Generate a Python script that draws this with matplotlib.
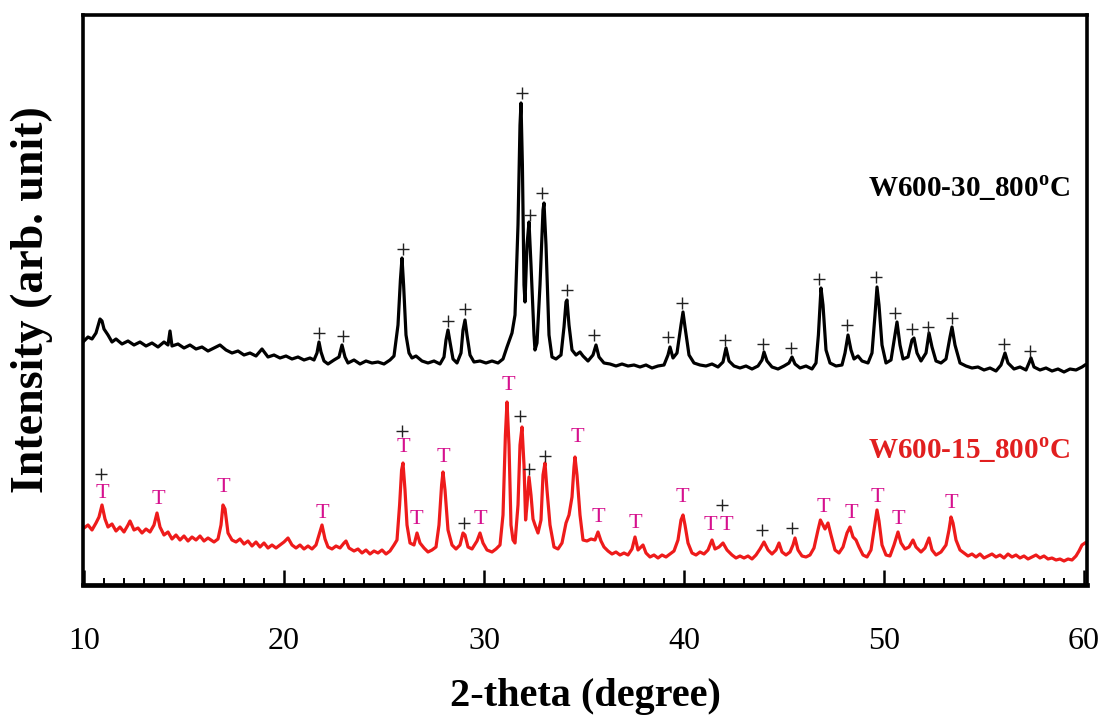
import matplotlib
matplotlib.use("Agg")
import matplotlib.pyplot as plt
from matplotlib.ticker import MultipleLocator

plt.rcParams['font.family'] = ['Liberation Serif', 'DejaVu Serif']
plt.rcParams['mathtext.fontset'] = 'custom'
plt.rcParams['mathtext.rm'] = 'Liberation Serif'
plt.rcParams['mathtext.bf'] = 'Liberation Serif:bold'

# ---- W600-30_800C (black, upper) : 2-theta, intensity (arb.) ----
black_x = [10.0, 10.2, 10.4, 10.6, 10.8, 10.9, 11.0, 11.2, 11.4, 11.6, 11.9, 12.2, 12.5, 12.8, 13.1, 13.4,
           13.7, 14.0, 14.2, 14.3, 14.4, 14.7, 15.0, 15.3, 15.6, 15.9, 16.2, 16.5, 16.8, 17.1, 17.4, 17.7,
           18.0, 18.3, 18.6, 18.9, 19.2, 19.5, 19.8, 20.1, 20.4, 20.7, 21.0, 21.3, 21.5, 21.65, 21.75, 21.85,
           22.0, 22.2, 22.5, 22.75, 22.9, 23.05, 23.2, 23.5, 23.8, 24.1, 24.4, 24.7, 25.0, 25.3, 25.5, 25.7,
           25.82, 25.9, 25.98, 26.1, 26.25, 26.4, 26.6, 26.9, 27.2, 27.5, 27.8, 28.0, 28.1, 28.2, 28.3, 28.45,
           28.65, 28.85, 28.95, 29.05, 29.15, 29.3, 29.5, 29.8, 30.1, 30.4, 30.7, 30.95, 31.15, 31.4, 31.55, 31.7,
           31.8, 31.85, 31.92, 32.0, 32.05, 32.15, 32.25, 32.35, 32.5, 32.55, 32.65, 32.8, 32.95, 33.0, 33.1, 33.25,
           33.4, 33.6, 33.85, 34.0, 34.1, 34.15, 34.25, 34.4, 34.6, 34.8, 34.95, 35.2, 35.45, 35.6, 35.75, 36.0,
           36.3, 36.6, 36.9, 37.2, 37.5, 37.8, 38.1, 38.4, 38.7, 39.0, 39.2, 39.3, 39.45, 39.65, 39.85, 39.95,
           40.05, 40.25, 40.5, 40.8, 41.1, 41.4, 41.7, 41.95, 42.1, 42.25, 42.5, 42.8, 43.1, 43.4, 43.7, 43.9,
           44.0, 44.15, 44.4, 44.7, 45.0, 45.25, 45.4, 45.55, 45.8, 46.1, 46.4, 46.6, 46.72, 46.85, 46.95, 47.1,
           47.3, 47.6, 47.9, 48.05, 48.2, 48.35, 48.5, 48.7, 48.9, 49.2, 49.4, 49.55, 49.65, 49.75, 49.9, 50.1,
           50.35, 50.55, 50.65, 50.8, 50.95, 51.2, 51.4, 51.5, 51.65, 51.85, 52.1, 52.25, 52.4, 52.6, 52.85, 53.1,
           53.3, 53.4, 53.55, 53.8, 54.1, 54.4, 54.7, 55.0, 55.3, 55.6, 55.85, 56.05, 56.2, 56.5, 56.8, 57.1,
           57.25, 57.35, 57.5, 57.8, 58.1, 58.4, 58.7, 59.0, 59.3, 59.6, 59.9, 60.05]
black_y = [244, 248, 246, 252, 266, 264, 256, 250, 243, 246, 241, 244, 240, 243, 239, 242,
           238, 243, 240, 254, 239, 241, 237, 240, 236, 238, 234, 237, 240, 235, 232, 234,
           230, 232, 229, 236, 228, 230, 227, 229, 226, 228, 225, 227, 225, 232, 243, 233,
           224, 221, 225, 228, 240, 228, 222, 225, 221, 224, 222, 223, 221, 225, 229, 260,
           305, 327, 300, 250, 232, 227, 229, 224, 222, 224, 221, 228, 245, 255, 243, 226,
           222, 232, 255, 265, 250, 230, 223, 224, 222, 224, 222, 226, 238, 252, 270, 360,
           460, 482, 420, 300, 283, 340, 363, 320, 250, 235, 242, 300, 375, 382, 340, 250,
           228, 226, 230, 258, 283, 285, 260, 235, 230, 233, 229, 224, 230, 240, 228, 222,
           221, 219, 221, 219, 220, 218, 220, 217, 219, 220, 230, 238, 227, 232, 260, 273,
           258, 230, 222, 220, 219, 221, 218, 223, 237, 224, 219, 217, 219, 216, 219, 225,
           233, 224, 218, 216, 219, 222, 228, 221, 217, 219, 216, 222, 250, 297, 280, 235,
           222, 219, 220, 232, 250, 235, 226, 229, 224, 222, 232, 270, 298, 280, 240, 222,
           225, 250, 263, 240, 226, 228, 245, 247, 232, 224, 232, 252, 238, 224, 222, 226,
           248, 258, 240, 222, 219, 217, 218, 215, 217, 214, 220, 232, 222, 216, 218, 215,
           222, 227, 218, 215, 217, 214, 216, 213, 216, 215, 218, 220]

# ---- W600-15_800C (red, lower) ----
red_x = [10.0, 10.2, 10.4, 10.6, 10.75, 10.9, 11.05, 11.2, 11.4, 11.6, 11.8, 12.0, 12.2, 12.3, 12.5, 12.7,
         12.9, 13.1, 13.3, 13.5, 13.65, 13.8, 14.0, 14.2, 14.4, 14.6, 14.8, 15.0, 15.2, 15.4, 15.6, 15.8,
         16.0, 16.2, 16.5, 16.7, 16.85, 16.95, 17.05, 17.2, 17.4, 17.6, 17.8, 18.0, 18.2, 18.4, 18.6, 18.8,
         19.0, 19.2, 19.4, 19.6, 19.8, 20.0, 20.2, 20.4, 20.6, 20.8, 21.0, 21.2, 21.4, 21.6, 21.75, 21.9,
         22.05, 22.2, 22.4, 22.6, 22.8, 23.0, 23.1, 23.25, 23.5, 23.7, 23.9, 24.1, 24.3, 24.5, 24.7, 24.9,
         25.1, 25.3, 25.5, 25.65, 25.78, 25.88, 25.95, 26.05, 26.15, 26.3, 26.5, 26.65, 26.8, 27.0, 27.2, 27.4,
         27.6, 27.75, 27.88, 27.95, 28.05, 28.2, 28.4, 28.6, 28.8, 28.95, 29.05, 29.2, 29.4, 29.65, 29.8, 29.95,
         30.15, 30.4, 30.6, 30.8, 30.95, 31.07, 31.15, 31.25, 31.35, 31.45, 31.55, 31.7, 31.8, 31.9, 32.0, 32.08,
         32.15, 32.25, 32.35, 32.45, 32.55, 32.7, 32.85, 32.95, 33.05, 33.15, 33.3, 33.5, 33.7, 33.9, 34.1, 34.25,
         34.4, 34.5, 34.55, 34.65, 34.8, 34.95, 35.15, 35.35, 35.55, 35.7, 35.85, 36.0, 36.2, 36.4, 36.6, 36.8,
         37.0, 37.2, 37.4, 37.55, 37.7, 37.95, 38.1, 38.3, 38.5, 38.7, 38.9, 39.1, 39.3, 39.5, 39.7, 39.85,
         39.95, 40.05, 40.2, 40.4, 40.6, 40.8, 41.0, 41.2, 41.4, 41.55, 41.75, 41.95, 42.15, 42.4, 42.6, 42.8,
         43.0, 43.2, 43.4, 43.6, 43.8, 44.0, 44.2, 44.4, 44.6, 44.75, 44.9, 45.1, 45.3, 45.45, 45.55, 45.7,
         45.9, 46.1, 46.3, 46.5, 46.7, 46.82, 46.95, 47.05, 47.2, 47.35, 47.55, 47.75, 47.95, 48.15, 48.3, 48.45,
         48.6, 48.75, 48.95, 49.15, 49.35, 49.5, 49.65, 49.75, 49.9, 50.1, 50.3, 50.5, 50.7, 50.85, 51.05, 51.25,
         51.45, 51.6, 51.85, 52.05, 52.25, 52.4, 52.6, 52.85, 53.1, 53.25, 53.35, 53.45, 53.6, 53.8, 54.0, 54.2,
         54.4, 54.6, 54.8, 55.0, 55.2, 55.4, 55.6, 55.8, 56.0, 56.2, 56.4, 56.6, 56.8, 57.0, 57.2, 57.4,
         57.6, 57.8, 58.0, 58.2, 58.4, 58.6, 58.8, 59.0, 59.2, 59.4, 59.6, 59.75, 59.9, 60.05]
red_y = [57, 60, 55, 62, 68, 80, 66, 58, 61, 54, 58, 53, 60, 64, 55, 57,
         52, 56, 53, 60, 72, 58, 50, 53, 46, 50, 45, 49, 44, 48, 45, 49,
         44, 47, 43, 46, 60, 80, 76, 52, 45, 43, 46, 41, 44, 39, 43, 38,
         42, 37, 40, 37, 40, 43, 47, 40, 37, 40, 36, 39, 36, 40, 50, 60,
         46, 38, 36, 39, 37, 42, 44, 37, 34, 36, 32, 35, 31, 34, 32, 35,
         31, 34, 40, 45, 80, 115, 122, 95, 60, 42, 40, 52, 42, 37, 33, 35,
         38, 60, 100, 113, 95, 55, 40, 36, 40, 52, 50, 38, 36, 44, 52, 42,
         35, 33, 36, 40, 70, 150, 183, 140, 60, 45, 42, 80, 140, 158, 120, 65,
         80, 108, 90, 66, 60, 52, 65, 110, 122, 95, 60, 38, 36, 42, 62, 70,
         88, 118, 128, 110, 70, 45, 44, 46, 45, 53, 44, 38, 34, 31, 33, 30,
         32, 30, 36, 48, 35, 40, 32, 28, 30, 27, 30, 28, 31, 34, 45, 65,
         70, 60, 42, 32, 30, 33, 31, 35, 45, 36, 38, 42, 35, 30, 27, 29,
         27, 29, 26, 30, 36, 43, 35, 31, 35, 42, 33, 30, 33, 40, 47, 35,
         29, 28, 30, 37, 55, 65, 60, 56, 62, 50, 35, 32, 38, 52, 58, 48,
         45, 38, 30, 28, 35, 55, 75, 64, 40, 30, 29, 40, 53, 42, 36, 38,
         45, 38, 33, 37, 47, 35, 30, 33, 40, 55, 68, 62, 45, 35, 32, 29,
         31, 28, 31, 27, 29, 31, 28, 30, 27, 31, 28, 30, 27, 29, 26, 28,
         30, 27, 29, 26, 27, 25, 26, 24, 26, 25, 29, 34, 40, 42]

# ---- phase markers ----
plus_black_x = [31.9, 32.3, 32.9, 25.95, 21.75, 22.95, 28.2, 29.05, 34.15, 35.5, 39.2, 39.9, 42.05,
                43.95, 45.35, 46.75, 48.15, 49.6, 50.55, 51.4, 52.2, 53.4, 56.0, 57.3]
plus_black_y = [492, 370, 392, 336, 252, 249, 264, 276, 295, 250, 248, 282, 245,
                241, 237, 306, 260, 308, 272, 256, 258, 267, 241, 234]
plus_red_x = [10.85, 25.9, 31.8, 32.25, 33.05, 29.0, 41.9, 43.9, 45.4]
plus_red_y = [111, 154, 169, 116, 129, 62, 80, 55, 57]
T_x = [10.9, 13.7, 16.95, 21.9, 25.95, 26.6, 27.95, 29.8, 31.2, 34.65, 35.7, 37.55, 39.9,
       41.3, 42.1, 46.95, 48.35, 49.65, 50.7, 53.35]
T_y = [92, 86, 97, 72, 137, 65, 127, 65, 200, 147, 67, 62, 87,
       60, 60, 78, 72, 88, 65, 82]

x_ticks = [10, 20, 30, 40, 50, 60]
label_black = r'W600-30_800$^{\mathbf{o}}$C'
label_red = r'W600-15_800$^{\mathbf{o}}$C'

fig = plt.figure(figsize=(11, 7.25), dpi=100)
ax = fig.add_axes([83 / 1100, 140 / 725, 1004 / 1100, 570 / 725])

ax.plot(black_x, black_y, color='black', lw=2.3, solid_joinstyle='round')
ax.plot(red_x, red_y, color='#ee1b1b', lw=2.3, solid_joinstyle='round')

ax.plot(plus_black_x, plus_black_y, ls='none', marker='+', ms=9, mew=1.0, color='#222222')
ax.plot(plus_red_x, plus_red_y, ls='none', marker='+', ms=9, mew=1.0, color='#222222')
for tx, ty in zip(T_x, T_y):
    ax.text(tx, ty, 'T', color='#d6118e', fontsize=16, ha='center', va='center')

ax.text(59.3, 397, label_black, color='black', fontsize=21, fontweight='bold', ha='right', va='center')
ax.text(59.3, 135, label_red, color='#e11f1f', fontsize=21, fontweight='bold', ha='right', va='center')

ax.set_xlim(9.95, 60.15)
ax.set_ylim(0, 570)
ax.set_xticks(x_ticks)
ax.xaxis.set_minor_locator(MultipleLocator(1))
ax.set_yticks([])
ax.tick_params(axis='x', which='major', direction='in', length=11, width=1.8, labelsize=23, pad=30)
ax.tick_params(axis='x', which='minor', direction='in', length=5, width=1.4)
for s in ax.spines.values():
    s.set_linewidth(2.6)
ax.spines['bottom'].set_linewidth(3.4)

ax.set_xlabel('2-theta (degree)', fontsize=29, fontweight='bold', labelpad=16)
ax.set_ylabel('Intensity (arb. unit)', fontsize=33, fontweight='bold')
ax.yaxis.set_label_coords(-0.03, 0.5)

fig.savefig('out.png', dpi=100)
